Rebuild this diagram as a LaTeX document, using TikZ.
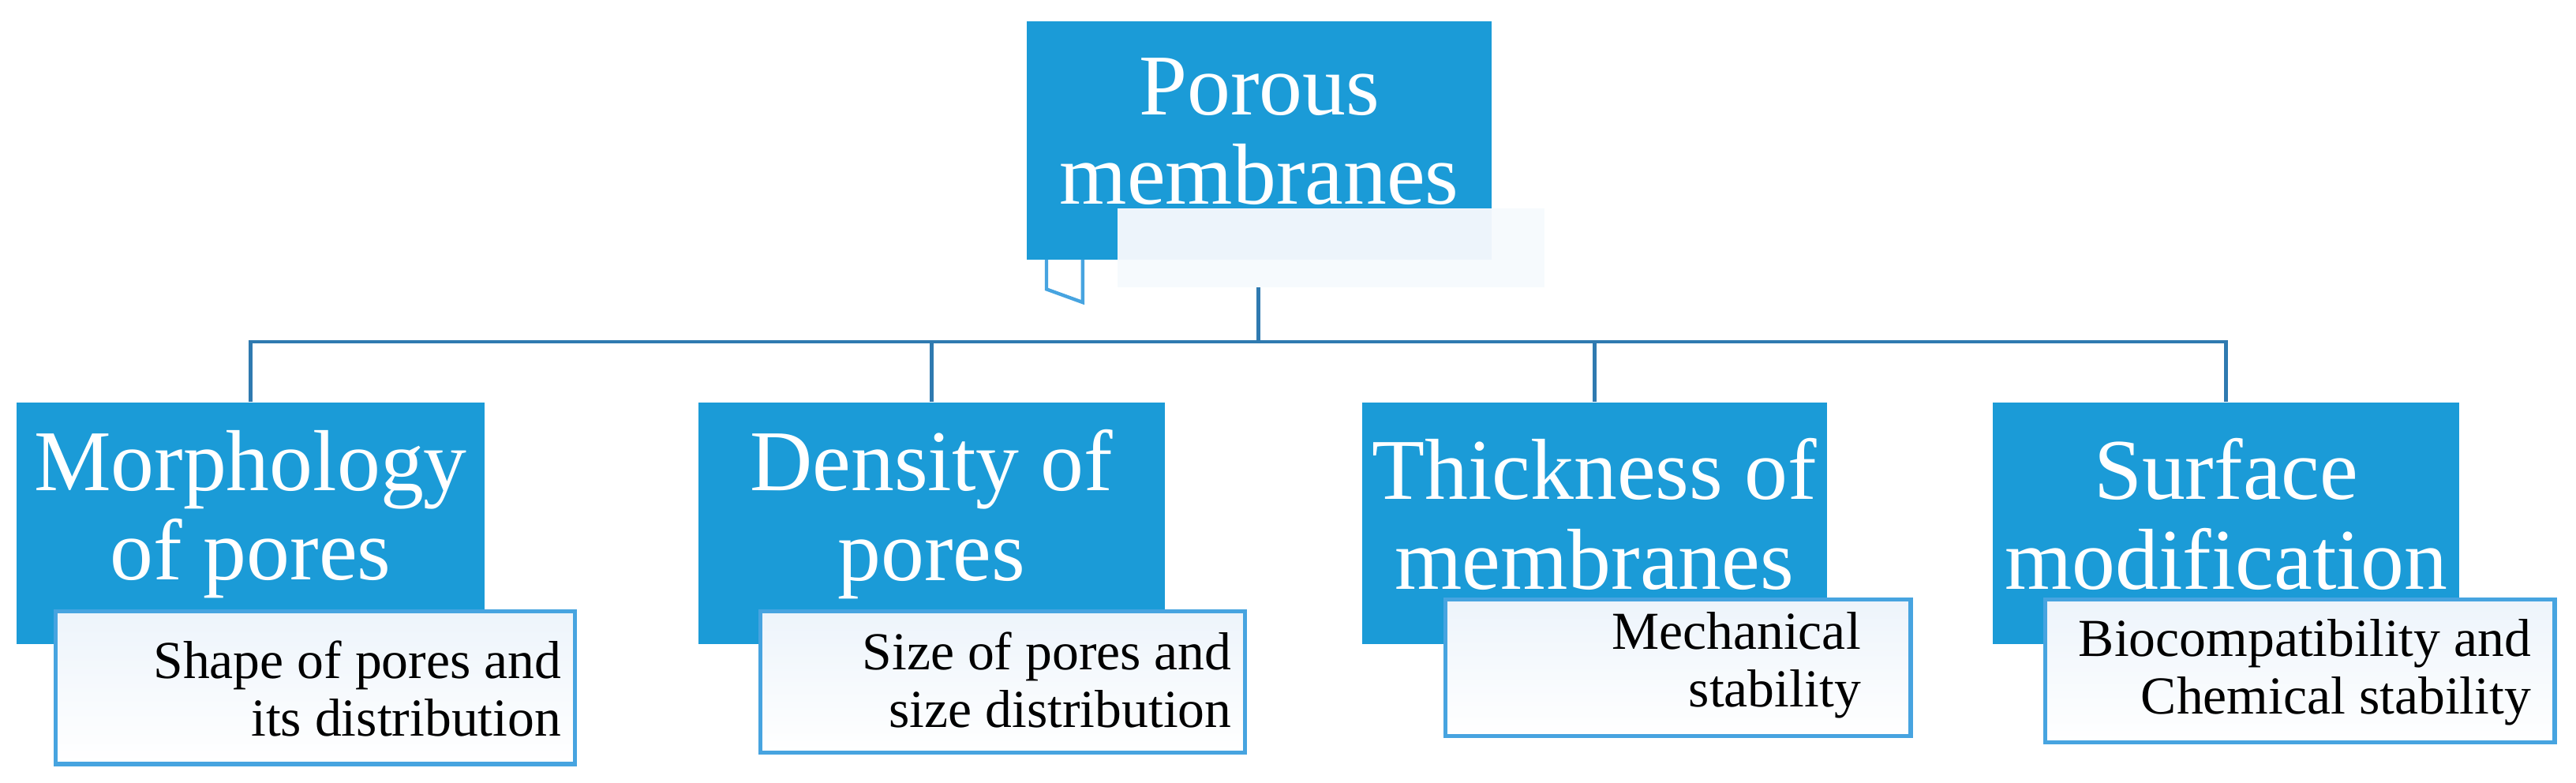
\documentclass[tikz,border=0pt]{standalone}
\usepackage{fontspec}
\setmainfont{Liberation Serif}
\usetikzlibrary{fit}
\definecolor{bbox}{HTML}{1B9BD7}
\definecolor{bline}{HTML}{2F7AB0}
\definecolor{wline}{HTML}{47A4E0}
\definecolor{pale}{HTML}{EDF4FB}
\tikzset{
  bluebox/.style={fill=bbox,draw=none,inner sep=0pt},
  whitebox/.style={draw=wline,line width=1.4pt,top color=pale,bottom color=white,inner sep=0pt},
  bigtxt/.style={text=white,align=center,font=\fontsize{30}{31}\selectfont,inner sep=0pt},
  smalltxt/.style={text=black,align=right,anchor=east,font=\fontsize{18.5}{20}\selectfont,inner sep=0pt},
  conn/.style={draw=bline,line width=1.3pt}
}
\begin{document}
\begin{tikzpicture}[x=0.02cm,y=-0.02cm]
\useasboundingbox (0,0) rectangle (1568,476.5);
% top
\fill[fill=white!50!pale] (680,127) rectangle (940,175);
\node[bluebox,fit={(625,13)(908,127)}] (top) {};
\fill[bbox] (625,126) rectangle (680,158);
\node[fill=pale,inner sep=0pt,fit={(680,127)(908,158)}] (toplight) {};
\node[bigtxt] (toptxt) at (766.5,80) {Porous\\membranes};
\draw[wline,line width=1.2pt] (637,158) -- (637,176) -- (659,184) -- (659,158);
\coordinate (tb) at (766,175);
\coordinate (hj) at (766,208);
% level 2 blue boxes
\node[bluebox,fit={(10,245)(295,392)}] (b1) {};
\node[bluebox,fit={(425,245)(709,392)}] (b2) {};
\node[bluebox,fit={(829,245)(1112,392)}] (b3) {};
\node[bluebox,fit={(1213,245)(1497,392)}] (b4) {};
\node[bigtxt] (t1) at (152.5,313) {Morphology\\of pores};
\node[bigtxt] (t2) at (567,313) {Density of\\pores};
\node[bigtxt] (t3) at (970.5,313) {Thickness of\\membranes};
\node[bigtxt] (t4) at (1355,313) {Surface\\modification};
% white boxes
\node[whitebox,fit={(34,372)(350,465)}] (w1) {};
\node[whitebox,fit={(463,372)(758,458)}] (w2) {};
\node[whitebox,fit={(880,365)(1163,448)}] (w3) {};
\node[whitebox,fit={(1245,365)(1555,452)}] (w4) {};
\node[smalltxt] (s1) at (342,419) {Shape of pores and\\its distribution};
\node[smalltxt] (s2) at (750,414) {Size of pores and\\size distribution};
\node[smalltxt] (s3) at (1133,405) {Mechanical\\stability};
\node[smalltxt] (s4) at (1541,409) {Biocompatibility and\\Chemical stability};
% connectors
\draw[conn] (tb) -- (hj);
\draw[conn] (b1.north) -- (b1.north |- hj) -- (b4.north |- hj) -- (b4.north);
\draw[conn] (b2.north |- hj) -- (b2.north);
\draw[conn] (b3.north |- hj) -- (b3.north);
\end{tikzpicture}
\end{document}
